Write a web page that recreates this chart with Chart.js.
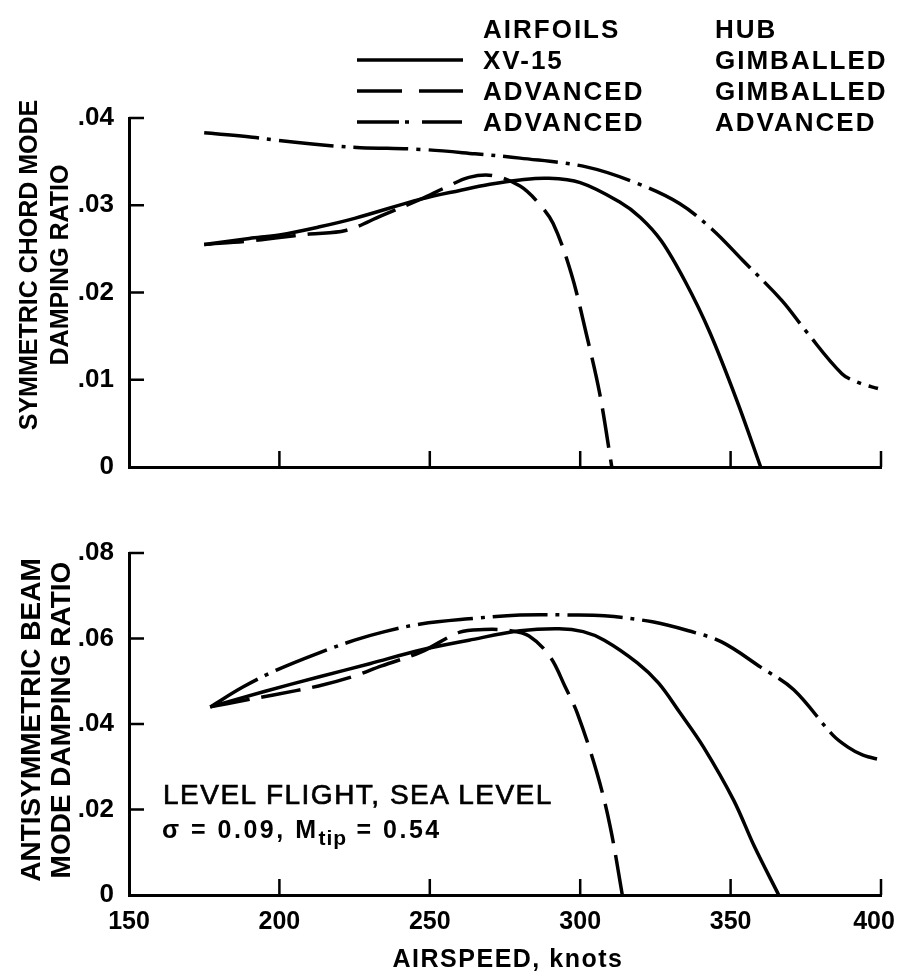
<!DOCTYPE html>
<html>
<head>
<meta charset="utf-8">
<script src="https://cdn.jsdelivr.net/npm/chart.js@4.4.0/dist/chart.umd.min.js"></script>
<style>
  body { margin: 0; background: #fff; width: 900px; height: 977px; position: relative; overflow: hidden;
         font-family: 'Liberation Sans', Arial, sans-serif; color: #000; }
  canvas { position: absolute; left: 0; }
  .t { position: absolute; white-space: nowrap; font-weight: bold; }
  .leg { font-size: 26px; line-height: 28px; letter-spacing: 2px; }
  .yt { position: absolute; white-space: nowrap; font-weight: bold; text-align: center;
        transform: translate(-50%, -50%) rotate(-90deg); }
  .sample { position: absolute; left: 357px; }
</style>
</head>
<body>
<canvas id="chord" width="900" height="500" style="top:0"></canvas>
<canvas id="beam" width="900" height="497" style="top:480px"></canvas>

<!-- legend -->
<div class="t leg" style="left:483px;top:15px">AIRFOILS</div>
<div class="t leg" style="left:715px;top:15px">HUB</div>
<svg class="sample" style="top:56px" width="106" height="8"><line x1="0" y1="4" x2="106" y2="4" stroke="#000" stroke-width="3.5"/></svg>
<div class="t leg" style="left:483px;top:46px">XV-15</div>
<div class="t leg" style="left:715px;top:46px">GIMBALLED</div>
<svg class="sample" style="top:87px" width="106" height="8"><line x1="0" y1="4" x2="106" y2="4" stroke="#000" stroke-width="3.5" stroke-dasharray="45 17"/></svg>
<div class="t leg" style="left:483px;top:77px">ADVANCED</div>
<div class="t leg" style="left:715px;top:77px">GIMBALLED</div>
<svg class="sample" style="top:118px" width="106" height="8"><line x1="0" y1="4" x2="106" y2="4" stroke="#000" stroke-width="3.5" stroke-dasharray="42 6 4 13 40"/></svg>
<div class="t leg" style="left:483px;top:108px">ADVANCED</div>
<div class="t leg" style="left:715px;top:108px">ADVANCED</div>

<!-- axis titles -->
<div class="yt" style="left:44px;top:265px;font-size:25px;line-height:31px">SYMMETRIC CHORD MODE<br>DAMPING RATIO</div>
<div class="yt" style="left:46px;top:720px;font-size:28px;line-height:30px">ANTISYMMETRIC BEAM<br>MODE DAMPING RATIO</div>
<div class="t" style="left:508px;top:958px;transform:translate(-50%,-50%);font-size:25px;letter-spacing:1.5px">AIRSPEED, knots</div>

<!-- flight condition note -->
<div style="position:absolute;left:163px;top:781px;font-size:28px;line-height:28px;letter-spacing:1.5px;white-space:nowrap;-webkit-text-stroke:0.7px #000">LEVEL FLIGHT, SEA LEVEL</div>
<div class="t" style="left:162px;top:815px;font-size:25px;line-height:28px;letter-spacing:2.5px">&sigma; = 0.09, M<span style="position:relative;top:7px;font-size:21px;letter-spacing:1px">tip</span> = 0.54</div>

<script>
'use strict';

var airspeedTicks = [150, 200, 250, 300, 350, 400];
var chordTicks = [0, 0.01, 0.02, 0.03, 0.04];
var beamTicks = [0, 0.02, 0.04, 0.06, 0.08];

// symmetric chord mode damping ratio vs airspeed (knots)
var chordXv15 = [[175, .0255], [190, .0262], [200, .0266], [213, .0275], [225, .0285], [247, .0307],
  [260, .0317], [270, .0324], [280, .0329], [289, .0331], [300, .0326], [313, .0304], [320, .0286],
  [327, .0259], [335, .0212], [343, .0155], [352, .0077], [360, 0]];
var chordAdvGimballed = [[175, .0255], [190, .0259], [200, .0263], [210, .0267], [222, .0271], [234, .0288],
  [247, .0307], [255, .0320], [263, .0332], [271, .0334], [280, .0322], [286, .0303], [291, .0279],
  [297, .0222], [302, .0153], [306.5, .0084], [310.5, 0]];
var chordAdvAdvanced = [[175, .0383], [191, .0378], [198, .0375], [218, .0368], [227, .0366], [247, .0364],
  [265, .0359], [280, .0354], [302, .0344], [319, .0325], [333, .0302], [344, .0272], [354, .0237],
  [367, .0191], [375, .0156], [387, .0107], [393, .0096], [399, .0090]];

// antisymmetric beam mode damping ratio vs airspeed (knots)
var beamXv15 = [[177, .0440], [195, .0476], [213, .0510], [230, .0541], [247, .0573], [263, .0596],
  [280, .0618], [293, .0623], [301, .0616], [308, .0596], [319, .0543], [326, .0496], [333, .0428],
  [341, .0346], [351, .0222], [358, .0112], [366, 0]];
var beamAdvGimballed = [[177, .0440], [188, .0455], [198, .0468], [213, .0489], [224, .0510], [234, .0536],
  [247, .0568], [260, .0615], [268, .0621], [276, .0619], [283, .0606], [290, .0557], [295, .0487],
  [299, .0426], [305.6, .0285], [310, .0159], [314, 0]];
var beamAdvAdvanced = [[177, .0440], [188, .0487], [199, .0526], [213, .0566], [225, .0596], [235, .0616],
  [247, .0634], [263, .0646], [280, .0655], [297, .0655], [308, .0653], [324, .0639], [336, .0618],
  [347, .0592], [360, .0533], [371, .0480], [384, .0374], [389, .0346], [394, .0327], [400, .0316]];

var SOLID = [];
var DASHED = [40, 12];
var DASHDOT = [55, 8, 4, 8];

Chart.defaults.font.family = "'Liberation Sans', Arial, sans-serif";
Chart.defaults.color = '#000';

// tick marks in the original point into the plot, so draw them from the scales
var inwardTicks = {
  id: 'inwardTicks',
  afterDraw: function(chart, args, opts) {
    var ctx = chart.ctx;
    var area = chart.chartArea;
    var xs = chart.scales.x;
    var ys = chart.scales.y;
    ctx.save();
    ctx.strokeStyle = '#000';
    ctx.lineWidth = 2.5;
    ctx.beginPath();
    opts.xTicks.forEach(function(v) {
      if (v === xs.min) return;
      var px = xs.getPixelForValue(v);
      ctx.moveTo(px, area.bottom);
      ctx.lineTo(px, area.bottom - opts.xLen);
    });
    opts.yTicks.forEach(function(v) {
      if (v === ys.min) return;
      var py = ys.getPixelForValue(v);
      ctx.moveTo(area.left, py);
      ctx.lineTo(area.left + opts.yLen, py);
    });
    ctx.stroke();
    ctx.restore();
  }
};

function series(points, dash) {
  return {
    data: points.map(function(p) {
      return { x: p[0], y: p[1] };
    }),
    borderColor: '#000',
    borderWidth: 3.5,
    borderDash: dash,
    borderCapStyle: 'butt',
    borderJoinStyle: 'round',
    pointRadius: 0,
    fill: false,
    tension: 0.35
  };
}

function tickLabel(v) {
  return v === 0 ? '0' : v.toFixed(2).replace(/^0/, '');
}

// the last airspeed label sits a little inside the frame in the original
function speedLabel(v) {
  return v === airspeedTicks[airspeedTicks.length - 1] ? v + '  ' : String(v);
}

function draw(id, datasets, yTicks, showX, padTop, xHeight) {
  var ctx = document.getElementById(id).getContext('2d');
  return new Chart(ctx, {
    type: 'line',
    data: { datasets: datasets },
    options: {
      responsive: false,
      animation: false,
      events: [],
      layout: { padding: { top: padTop, right: 19, bottom: 0, left: 0 } },
      plugins: {
        legend: { display: false },
        tooltip: { enabled: false },
        inwardTicks: { xTicks: airspeedTicks, yTicks: yTicks, xLen: 16, yLen: 15 }
      },
      scales: {
        x: {
          type: 'linear',
          min: airspeedTicks[0],
          max: airspeedTicks[airspeedTicks.length - 1],
          afterBuildTicks: function(s) {
            s.ticks = airspeedTicks.map(function(v) { return { value: v }; });
          },
          ticks: { display: showX, padding: 12, font: { size: 25, weight: 'bold' }, maxRotation: 0, callback: speedLabel },
          grid: { display: true, drawOnChartArea: false, drawTicks: false },
          border: { display: true, color: '#000', width: 3 },
          afterFit: function(s) {
            s.height = xHeight;
            s.paddingLeft = 0;
            s.paddingRight = 0;
          }
        },
        y: {
          min: 0,
          max: yTicks[yTicks.length - 1],
          afterBuildTicks: function(s) {
            s.ticks = yTicks.map(function(v) { return { value: v }; });
          },
          ticks: { padding: 15, font: { size: 26, weight: 'bold' }, callback: tickLabel },
          grid: { display: true, drawOnChartArea: false, drawTicks: false },
          border: { display: true, color: '#000', width: 3 },
          afterFit: function(s) {
            s.width = 129;
            s.paddingTop = 0;
            s.paddingBottom = 0;
          }
        }
      }
    },
    plugins: [inwardTicks]
  });
}

draw('chord', [
  series(chordXv15, SOLID),
  series(chordAdvGimballed, DASHED),
  series(chordAdvAdvanced, DASHDOT)
], chordTicks, false, 118, 33);

draw('beam', [
  series(beamXv15, SOLID),
  series(beamAdvGimballed, DASHED),
  series(beamAdvAdvanced, DASHDOT)
], beamTicks, true, 73, 82);
</script>
</body>
</html>
